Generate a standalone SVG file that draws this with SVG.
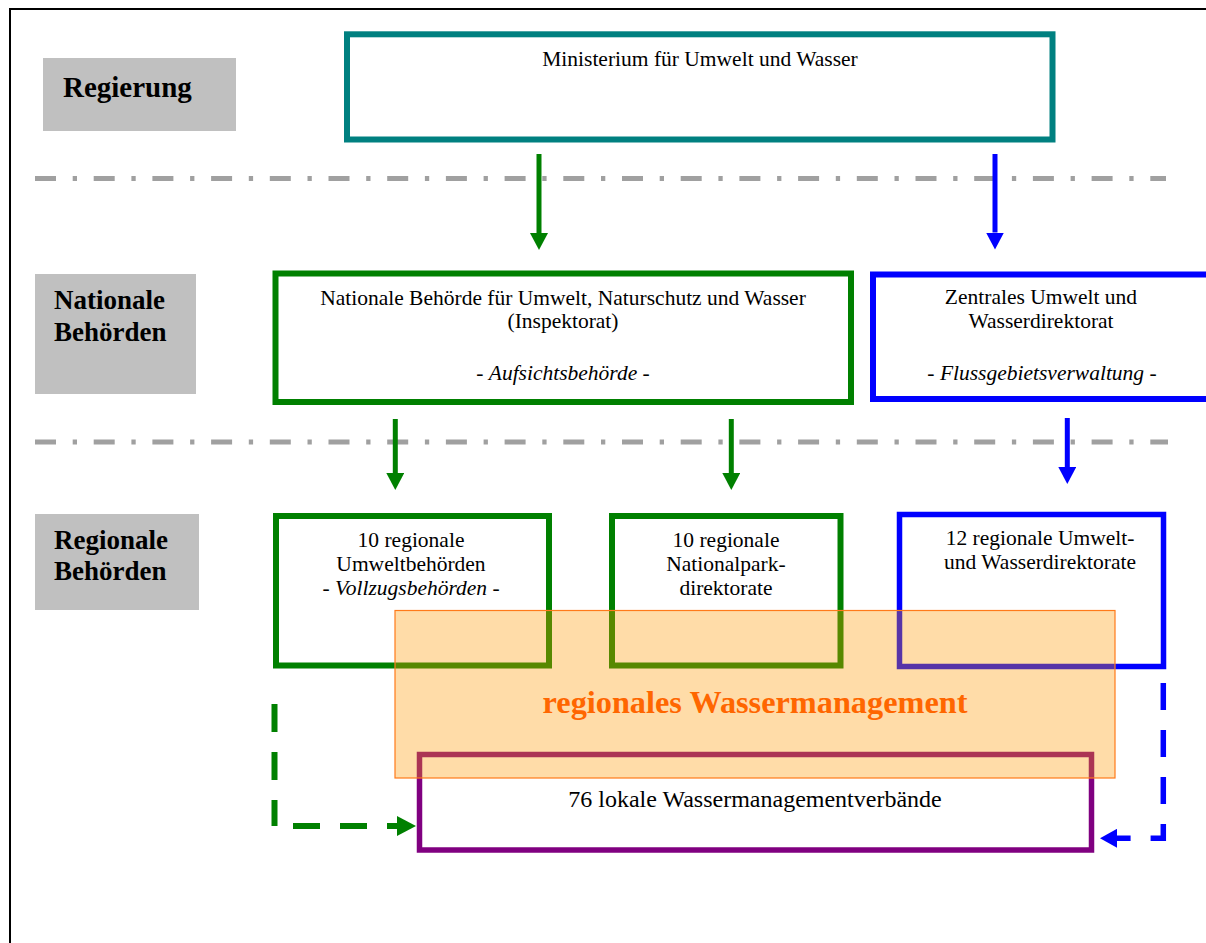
<svg xmlns="http://www.w3.org/2000/svg" width="1206" height="943" viewBox="0 0 1206 943">
<style>
.lbl{fill:#C0C0C0;stroke:none}
.lt{font-family:"Liberation Serif","Times New Roman",serif;font-weight:bold;font-size:27px;fill:#000}
.t{font-family:"Liberation Serif","Times New Roman",serif;font-size:21.5px;fill:#000;text-anchor:middle}
.it{font-style:italic}
.box{fill:#fff;stroke-width:5.5}
.teal{stroke:#008080}
.green{stroke:#008000}
.blue{stroke:#0000FF}
.purple{stroke:#800080}
.sep{stroke:#A0A0A0;stroke-width:5;stroke-dasharray:21 16.7 4.3 16.7;fill:none}
.solidG{stroke:#008000;stroke-width:5;fill:none}
.solidB{stroke:#0000FF;stroke-width:5;fill:none}
.dashG{stroke:#008000;stroke-width:6;fill:none}
.dashB{stroke:#0000FF;stroke-width:5.5;fill:none}
</style>
<defs>
<marker id="ahG" markerUnits="userSpaceOnUse" markerWidth="17" markerHeight="18" viewBox="0 0 17 18" refX="0" refY="9" orient="auto"><path d="M0,0 L17,9 L0,18 z" fill="#008000"/></marker>
<marker id="ahB" markerUnits="userSpaceOnUse" markerWidth="17" markerHeight="18" viewBox="0 0 17 18" refX="0" refY="9" orient="auto"><path d="M0,0 L17,9 L0,18 z" fill="#0000FF"/></marker>
<marker id="ahGd" markerUnits="userSpaceOnUse" markerWidth="19" markerHeight="20" viewBox="0 0 19 20" refX="0" refY="10" orient="auto"><path d="M0,0 L19,10 L0,20 z" fill="#008000"/></marker>
<marker id="ahBd" markerUnits="userSpaceOnUse" markerWidth="17" markerHeight="19" viewBox="0 0 17 19" refX="0" refY="9.5" orient="auto"><path d="M0,0 L17,9.5 L0,19 z" fill="#0000FF"/></marker>
</defs>
<rect x="0" y="0" width="1206" height="943" fill="#fff"/>
<rect x="10" y="9" width="1230" height="960" fill="none" stroke="#000" stroke-width="2"/>

<g id="separators">
<line class="sep" x1="35" y1="178.5" x2="1166" y2="178.5"/>
<line class="sep" x1="35" y1="442" x2="1168" y2="442"/>
</g>

<g id="label-regierung">
<rect class="lbl" x="43" y="58" width="193" height="73"/>
<text class="lt" x="63" y="97" style="font-size:29px">Regierung</text>
</g>
<g id="label-nationale">
<rect class="lbl" x="35" y="274" width="161" height="120"/>
<text class="lt" x="54" y="309">Nationale</text>
<text class="lt" x="54" y="341">Behörden</text>
</g>
<g id="label-regionale">
<rect class="lbl" x="35" y="514" width="164" height="96"/>
<text class="lt" x="54" y="549">Regionale</text>
<text class="lt" x="54" y="580">Behörden</text>
</g>

<g id="ministerium">
<rect class="box teal" x="347" y="34.3" width="705.5" height="105.2" style="stroke-width:6"/>
<text class="t" x="700" y="66">Ministerium für Umwelt und Wasser</text>
</g>

<g id="nationale-behoerde">
<rect class="box green" x="275.5" y="273.5" width="575.5" height="128.5" style="stroke-width:6"/>
<text class="t" x="563" y="305">Nationale Behörde für Umwelt, Naturschutz und Wasser</text>
<text class="t" x="563" y="328">(Inspektorat)</text>
<text class="t" x="563" y="380">- <tspan class="it">Aufsichtsbehörde</tspan> -</text>
</g>

<g id="zentrales-direktorat">
<rect class="box blue" x="873" y="274.5" width="350" height="124.5" style="stroke-width:6"/>
<text class="t" x="1041" y="304">Zentrales Umwelt und</text>
<text class="t" x="1041" y="328">Wasserdirektorat</text>
<text class="t" x="1042" y="380">- <tspan class="it">Flussgebietsverwaltung</tspan> -</text>
</g>

<g id="regionale-umweltbehoerden">
<rect class="box green" x="276" y="516" width="273" height="149.5" style="stroke-width:6"/>
<text class="t" x="411" y="547">10 regionale</text>
<text class="t" x="411" y="571">Umweltbehörden</text>
<text class="t" x="411" y="595">- <tspan class="it">Vollzugsbehörden</tspan> -</text>
</g>

<g id="nationalparkdirektorate">
<rect class="box green" x="612" y="516" width="228.5" height="149.5" style="stroke-width:6"/>
<text class="t" x="726" y="547">10 regionale</text>
<text class="t" x="726" y="571">Nationalpark-</text>
<text class="t" x="726" y="595">direktorate</text>
</g>

<g id="regionale-wasserdirektorate">
<rect class="box blue" x="899.5" y="514.5" width="264" height="152"/>
<text class="t" x="1040" y="545">12 regionale Umwelt-</text>
<text class="t" x="1040" y="569">und Wasserdirektorate</text>
</g>

<g id="lokale-verbaende">
<rect class="box purple" x="419.5" y="754.5" width="672" height="95.5"/>
<text class="t" x="755" y="807" style="font-size:24px">76 lokale Wassermanagementverbände</text>
</g>

<g id="regionales-wassermanagement">
<rect x="395" y="610.5" width="720" height="167.5" fill="#FF9900" fill-opacity="0.34" stroke="#FF7A1A" stroke-width="1.2"/>
<text x="755" y="713" text-anchor="middle" font-family="Liberation Serif, Times New Roman, serif" font-weight="bold" font-size="32.3" fill="#FF6600">regionales Wassermanagement</text>
</g>

<g id="connectors">
<line class="solidG" x1="539" y1="154" x2="539" y2="233" marker-end="url(#ahG)"/>
<line class="solidB" x1="995" y1="154" x2="995" y2="232.5" marker-end="url(#ahB)"/>
<line class="solidG" x1="395.3" y1="419" x2="395.3" y2="473" marker-end="url(#ahG)"/>
<line class="solidG" x1="731.3" y1="419" x2="731.3" y2="473" marker-end="url(#ahG)"/>
<line class="solidB" x1="1067.3" y1="418" x2="1067.3" y2="467" marker-end="url(#ahB)"/>
<line class="dashG" x1="274.5" y1="704" x2="274.5" y2="826" stroke-dasharray="28 20"/>
<line class="dashG" x1="293" y1="826" x2="397" y2="826" stroke-dasharray="27 20" marker-end="url(#ahGd)"/>
<path class="dashB" d="M1163.3,683 V838.3 H1117" stroke-dasharray="27 20" marker-end="url(#ahBd)"/>
</g>
</svg>
